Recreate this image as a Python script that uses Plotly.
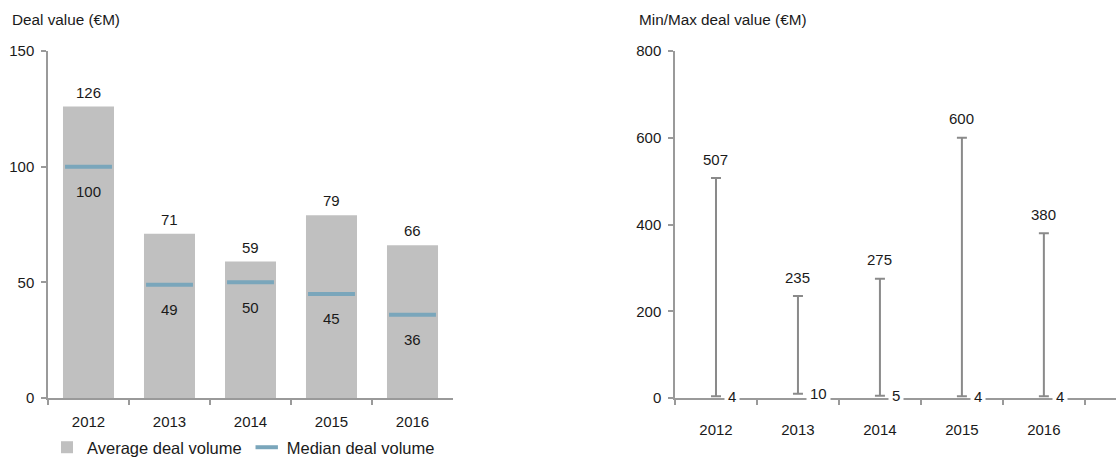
import plotly.graph_objects as go

years = ["2012", "2013", "2014", "2015", "2016"]
avg_deal = [126, 71, 59, 79, 66]
median_deal = [100, 49, 50, 45, 36]
min_deal = [4, 10, 5, 4, 4]
max_deal = [507, 235, 275, 600, 380]

FONT = "Liberation Sans, Arial, sans-serif"
TXT = "#1a1a1a"
AX = "#9a9a9a"
W, H = 1116, 465

fig = go.Figure()

fig.add_trace(go.Bar(
    x=years, y=avg_deal, name="Average deal volume",
    marker=dict(color="#c0c0c0", line=dict(width=0)),
    width=0.63, xaxis="x", yaxis="y", hoverinfo="skip",
))
fig.add_trace(go.Scatter(
    x=years, y=median_deal, name="Median deal volume", mode="markers",
    marker=dict(symbol="line-ew", size=33.5, line=dict(color="#7aa6bb", width=4), color="#7aa6bb"),
    xaxis="x", yaxis="y", hoverinfo="skip",
))
fig.add_trace(go.Scatter(
    x=years, y=min_deal, mode="markers", showlegend=False,
    marker=dict(size=1, opacity=0),
    error_y=dict(type="data", symmetric=False,
                 array=[mx - mn for mx, mn in zip(max_deal, min_deal)],
                 arrayminus=[0] * len(min_deal),
                 color="#8a8a8a", thickness=2, width=5),
    xaxis="x2", yaxis="y2", hoverinfo="skip",
))

ann = []
for i, v in enumerate(avg_deal):
    ann.append(dict(x=i, y=v, xref="x", yref="y", text=str(v), showarrow=False,
                    yanchor="bottom", yshift=4, font=dict(size=15, color=TXT, family=FONT)))
for i, v in enumerate(median_deal):
    ann.append(dict(x=i, y=v, xref="x", yref="y", text=str(v), showarrow=False,
                    yanchor="middle", yshift=-25, font=dict(size=15, color=TXT, family=FONT)))
for i, v in enumerate(max_deal):
    ann.append(dict(x=i, y=v, xref="x2", yref="y2", text=str(v), showarrow=False,
                    yanchor="middle", yshift=19, font=dict(size=15, color=TXT, family=FONT)))
for i, v in enumerate(min_deal):
    ann.append(dict(x=i, y=v, xref="x2", yref="y2", text=str(v), showarrow=False,
                    xanchor="left", yanchor="middle", xshift=8, bgcolor="white", borderpad=3,
                    font=dict(size=15, color=TXT, family=FONT)))
ann.append(dict(x=10 / W, y=1 - 19 / H, xref="paper", yref="paper", text="Deal value (€M)",
                showarrow=False, xanchor="left", yanchor="middle",
                font=dict(size=15.3, color=TXT, family=FONT)))
ann.append(dict(x=637 / W, y=1 - 20 / H, xref="paper", yref="paper", text="Min/Max deal value (€M)",
                showarrow=False, xanchor="left", yanchor="middle",
                font=dict(size=15.3, color=TXT, family=FONT)))

ydom = [(H - 398) / H, (H - 51) / H]
axis_common = dict(showgrid=False, zeroline=False, showline=True, linecolor=AX, linewidth=1.5,
                   ticks="outside", ticklen=5, tickcolor=AX, tickwidth=1.5, automargin=False,
                   tickfont=dict(size=15, color=TXT, family=FONT))

fig.update_layout(
    template="none",
    width=W, height=H,
    margin=dict(l=0, r=0, t=0, b=0, pad=0),
    paper_bgcolor="white", plot_bgcolor="white",
    font=dict(family=FONT, size=15, color=TXT),
    xaxis=dict(domain=[48 / W, 453 / W], type="category", tickson="boundaries",
               range=[-0.5, 4.5], anchor="y", ticklabelstandoff=9, **axis_common),
    yaxis=dict(domain=ydom, range=[0, 150], tickvals=[0, 50, 100, 150], anchor="x",
               ticklabelstandoff=4, **axis_common),
    xaxis2=dict(domain=[675 / W, 1.0], type="category", tickson="boundaries",
                range=[-0.5, 4.88], anchor="y2", ticklabelstandoff=17, **axis_common),
    yaxis2=dict(domain=ydom, range=[0, 800], tickvals=[0, 200, 400, 600, 800], anchor="x2",
                ticklabelstandoff=4, **axis_common),
    showlegend=True,
    legend=dict(orientation="h", x=47 / W, y=0, xanchor="left", yanchor="bottom",
                font=dict(size=16.5, color=TXT, family=FONT), bgcolor="rgba(0,0,0,0)",
                borderwidth=0, itemclick=False, traceorder="normal"),
    annotations=ann,
    bargap=0.37,
)

fig.write_html("out.html", config={"displayModeBar": False},
               post_script="document.body.style.margin='0';document.body.style.overflow='hidden';")
